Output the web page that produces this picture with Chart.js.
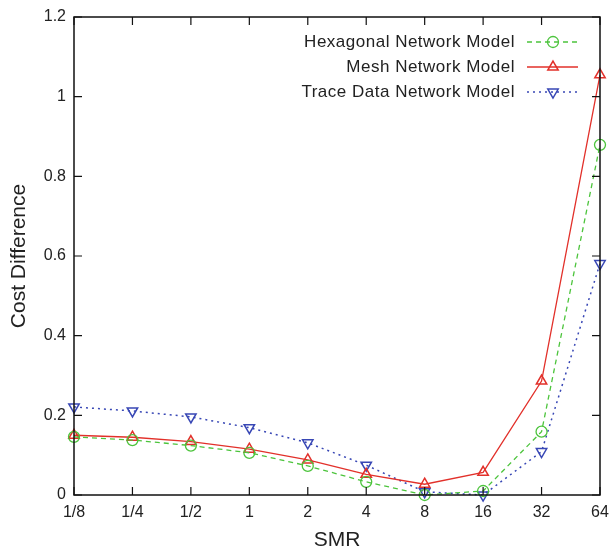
<!DOCTYPE html>
<html>
<head>
<meta charset="utf-8">
<script src="https://cdn.jsdelivr.net/npm/chart.js@4/dist/chart.umd.min.js"></script>
<style>
html,body{margin:0;padding:0;background:#fff;}
#wrap{width:611px;height:551px;position:relative;}
</style>
</head>
<body>
<div id="wrap"><canvas id="c" width="611" height="551"></canvas></div>
<script>
const categories = ["1/8","1/4","1/2","1","2","4","8","16","32","64"];
const hexagonal = [0.146,0.138,0.124,0.106,0.073,0.033,0.0,0.01,0.159,0.879];
const mesh      = [0.150,0.145,0.134,0.115,0.088,0.052,0.027,0.057,0.286,1.055];
const trace     = [0.221,0.211,0.196,0.169,0.131,0.075,0.008,0.0,0.109,0.581];
const seriesNames = ["Hexagonal Network Model","Mesh Network Model","Trace Data Network Model"];
const yTicks = [0,0.2,0.4,0.6,0.8,1,1.2];

const FONT = "'Liberation Sans', Arial, Helvetica, sans-serif";
const TXT = "#222";

const framePlugin = {
  id: 'frame',
  afterDatasetsDraw(chart) {
    const {ctx, chartArea: a, scales} = chart;
    ctx.save();
    ctx.strokeStyle = '#111';
    ctx.lineWidth = 1.5;
    ctx.setLineDash([]);
    ctx.strokeRect(a.left, a.top, a.right - a.left, a.bottom - a.top);
    ctx.lineWidth = 1.2;
    const tl = 8;
    ctx.beginPath();
    yTicks.forEach(v => {
      const y = scales.y.getPixelForValue(v);
      ctx.moveTo(a.left, y); ctx.lineTo(a.left + tl, y);
      ctx.moveTo(a.right, y); ctx.lineTo(a.right - tl, y);
    });
    categories.forEach((c, i) => {
      const x = scales.x.getPixelForValue(i);
      ctx.moveTo(x, a.bottom); ctx.lineTo(x, a.bottom - tl);
      ctx.moveTo(x, a.top); ctx.lineTo(x, a.top + tl);
    });
    ctx.stroke();
    ctx.restore();
  },
  afterDraw(chart) {
    const {ctx} = chart;
    ctx.save();
    ctx.font = "17px " + FONT;
    try { ctx.letterSpacing = '0.5px'; } catch (e) {}
    ctx.textAlign = 'right';
    ctx.textBaseline = 'middle';
    const rows = [42, 67, 92];
    chart.data.datasets.forEach((ds, i) => {
      const y = rows[i];
      ctx.fillStyle = TXT;
      ctx.fillText(ds.label, 515, y);
      ctx.strokeStyle = ds.borderColor;
      ctx.lineWidth = ds.borderWidth;
      ctx.setLineDash(ds.borderDash || []);
      ctx.beginPath();
      ctx.moveTo(527, y); ctx.lineTo(578, y);
      ctx.stroke();
      ctx.setLineDash([]);
      ctx.fillStyle = 'rgba(0,0,0,0)';
      ctx.lineWidth = ds.pointBorderWidth;
      Chart.helpers.drawPoint(ctx, {
        pointStyle: ds.pointStyle,
        radius: ds.pointRadius,
        rotation: ds.pointRotation || 0,
        borderWidth: ds.pointBorderWidth
      }, 553, y);
    });
    ctx.restore();
  }
};

new Chart(document.getElementById('c'), {
  type: 'line',
  data: {
    labels: categories,
    datasets: [
      {label: seriesNames[0], data: hexagonal, borderColor: '#4cc43c', backgroundColor: 'rgba(0,0,0,0)',
       borderWidth: 1.3, borderDash: [5,4], pointStyle: 'circle', pointRadius: 5.5, pointBorderWidth: 1.3,
       pointBackgroundColor: 'rgba(0,0,0,0)', tension: 0, clip: false},
      {label: seriesNames[1], data: mesh, borderColor: '#e2302a', backgroundColor: 'rgba(0,0,0,0)',
       borderWidth: 1.3, pointStyle: 'triangle', pointRadius: 6, pointBorderWidth: 1.5,
       pointBackgroundColor: 'rgba(0,0,0,0)', tension: 0, clip: false},
      {label: seriesNames[2], data: trace, borderColor: '#3847b5', backgroundColor: 'rgba(0,0,0,0)',
       borderWidth: 1.5, borderDash: [2,4], pointStyle: 'triangle', pointRotation: 180, pointRadius: 6, pointBorderWidth: 1.5,
       pointBackgroundColor: 'rgba(0,0,0,0)', tension: 0, clip: false}
    ]
  },
  options: {
    responsive: false,
    animation: false,
    layout: {padding: {top: 17, right: 11, left: 0, bottom: 0}},
    plugins: {legend: {display: false}, tooltip: {enabled: false}},
    scales: {
      x: {
        type: 'category', offset: false,
        grid: {display: false, drawTicks: false},
        border: {display: false},
        ticks: {color: TXT, font: {family: FONT, size: 16}, padding: 8, maxRotation: 0, autoSkip: false},
        title: {display: true, text: 'SMR', color: TXT, font: {family: FONT, size: 21, lineHeight: 1.0}, padding: {top: 0, bottom: 0}},
        afterFit(s) { s.height = 56; s.paddingLeft = 0; s.paddingRight = 0; }
      },
      y: {
        min: 0, max: 1.2,
        afterBuildTicks(s) { s.ticks = yTicks.map(v => ({value: v})); },
        grid: {display: false, drawTicks: false},
        border: {display: false},
        ticks: {color: TXT, font: {family: FONT, size: 16}, padding: 8, callback: v => String(v)},
        title: {display: true, text: 'Cost Difference', color: TXT, font: {family: FONT, size: 21}, padding: {top: 7, bottom: 0}},
        afterFit(s) { s.width = 74; s.paddingTop = 0; s.paddingBottom = 0; }
      }
    }
  },
  plugins: [framePlugin]
});
</script>
</body>
</html>
